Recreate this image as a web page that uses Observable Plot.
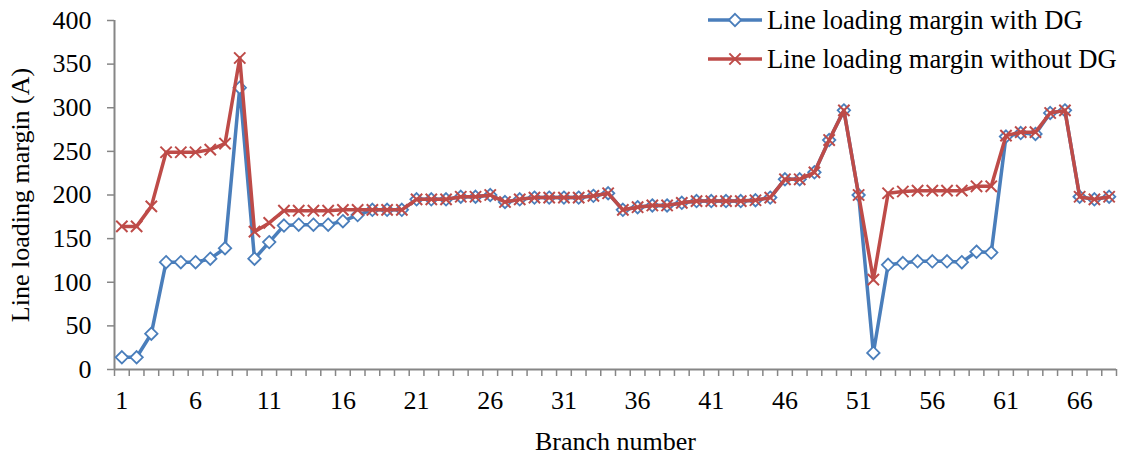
<!DOCTYPE html>
<html>
<head>
<meta charset="utf-8">
<script src="https://cdn.jsdelivr.net/npm/d3@7"></script>
<script src="https://cdn.jsdelivr.net/npm/@observablehq/plot@0.6"></script>
<style>
  html, body { margin: 0; padding: 0; background: #fff; }
  #wrap { position: relative; width: 1125px; height: 461px; font-family: "Liberation Serif", "Times New Roman", serif; }
  #legend { position: absolute; left: 700px; top: 0px; }
</style>
</head>
<body>
<div id="wrap"></div>
<script>
// Branch numbers (categories)
const branches = [1,2,3,4,5,6,7,8,9,10,11,12,13,14,15,16,17,18,19,20,21,22,23,24,25,26,27,28,29,30,31,32,33,34,35,36,37,38,39,40,41,42,43,44,45,46,47,48,49,50,51,52,53,54,55,56,57,58,59,60,61,62,63,64,65,66,67,68];

// Line loading margin with DG (A)
const withDG = [14,14,41,123,123,123,127,139,323,127,146,165,166,166,166,170,177,183,183,183,
  195,195,195,198,198,200,192,195,197,197,197,197,199,202,183,186,188,188,191,193,
  193,193,193,194,197,218,218,226,263,297,200,19,120,122,124,124,124,123,135,134,
  267,271,270,294,297,198,195,198];

// Line loading margin without DG (A)
const withoutDG = [164,164,187,249,249,249,252,259,357,158,168,182,182,182,182,183,183,183,183,183,
  195,195,195,198,198,200,192,195,197,197,197,197,199,202,183,186,188,188,191,193,
  193,193,193,194,197,218,218,226,263,297,200,103,202,204,205,205,205,205,210,210,
  268,272,272,294,297,198,195,198];

const seriesNames = ["Line loading margin with DG", "Line loading margin without DG"];
const xTickLabels = [1,6,11,16,21,26,31,36,41,46,51,56,61,66];
const yTickLabels = [0,50,100,150,200,250,300,350,400];

const colors = ["#4A7EBB", "#BE4B48"];
const axisGray = "#868686";

const dataWith = branches.map((b, i) => ({branch: b, value: withDG[i]}));
const dataWithout = branches.map((b, i) => ({branch: b, value: withoutDG[i]}));
const boundaries = [branches[0] - 0.5, ...branches.map(b => b + 0.5)];

const chart = Plot.plot({
  width: 1125,
  height: 461,
  marginLeft: 114,
  marginRight: 9,
  marginTop: 20,
  marginBottom: 92,
  style: {fontFamily: '"Liberation Serif", "Times New Roman", serif', fontSize: "26px", background: "#fff", color: "#000", overflow: "visible"},
  x: {domain: [boundaries[0], boundaries[boundaries.length - 1]], labelArrow: "none"},
  y: {domain: [0, 400], labelArrow: "none"},
  marks: [
    Plot.axisY({ticks: yTickLabels, tickSize: 7, tickPadding: 16, stroke: axisGray, strokeWidth: 1.5, fill: "#000",
      label: "Line loading margin (A)", labelArrow: "none", labelAnchor: "center", labelOffset: 104}),
    Plot.axisX({ticks: boundaries, tickSize: 7, tickFormat: () => "", stroke: axisGray, strokeWidth: 1.5, label: null}),
    Plot.axisX({ticks: xTickLabels, tickSize: 0, tickPadding: 21, fill: "#000",
      label: "Branch number", labelArrow: "none", labelAnchor: "center", labelOffset: 80}),
    Plot.ruleY([0], {stroke: axisGray, strokeWidth: 2}),
    Plot.ruleX([boundaries[0]], {stroke: axisGray, strokeWidth: 2}),
    Plot.line(dataWith, {x: "branch", y: "value", stroke: colors[0], strokeWidth: 3.5}),
    Plot.dot(dataWith, {x: "branch", y: "value", symbol: "diamond2", r: 5.6, stroke: colors[0], fill: "#fff", strokeWidth: 1.8}),
    Plot.line(dataWithout, {x: "branch", y: "value", stroke: colors[1], strokeWidth: 3.5}),
    Plot.dot(dataWithout, {x: "branch", y: "value", symbol: "times", r: 5.2, stroke: colors[1], strokeWidth: 2})
  ]
});

const wrap = document.getElementById("wrap");
wrap.appendChild(chart);

// Legend (overlay, top right)
const leg = d3.select(wrap).append("svg")
  .attr("id", "legend").attr("width", 425).attr("height", 80)
  .style("font-family", '"Liberation Serif", "Times New Roman", serif').style("font-size", "26.6px");
const rowsY = [20, 59];
seriesNames.forEach((name, i) => {
  const g = leg.append("g").attr("transform", `translate(8,${rowsY[i]})`);
  g.append("line").attr("x1", 0).attr("x2", 54).attr("y1", 0).attr("y2", 0)
    .attr("stroke", colors[i]).attr("stroke-width", 3.5);
  if (i === 0) {
    g.append("path").attr("d", d3.symbol(d3.symbolDiamond2, Math.PI * 5.6 * 5.6)())
      .attr("transform", "translate(27,0)").attr("fill", "#fff").attr("stroke", colors[i]).attr("stroke-width", 1.8);
  } else {
    g.append("path").attr("d", d3.symbol(d3.symbolTimes, Math.PI * 5.2 * 5.2)())
      .attr("transform", "translate(27,0)").attr("fill", "none").attr("stroke", colors[i]).attr("stroke-width", 2);
  }
  g.append("text").attr("x", 59).attr("y", 0).attr("dy", "0.35em").attr("fill", "#000").text(name);
});
</script>
</body>
</html>
